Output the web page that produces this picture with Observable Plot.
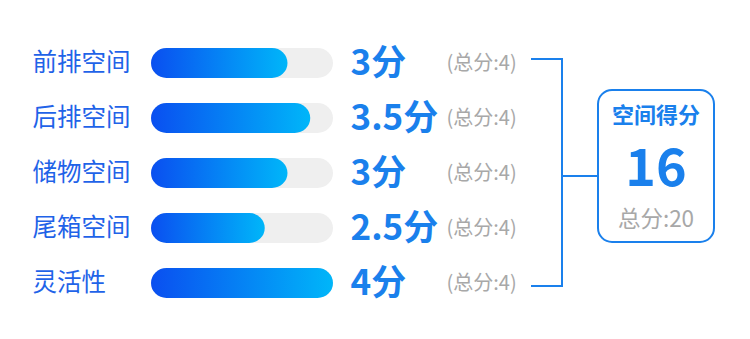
<!DOCTYPE html>
<html><head><meta charset="utf-8">
<script src="https://cdn.jsdelivr.net/npm/d3@7"></script>
<script src="https://cdn.jsdelivr.net/npm/@observablehq/plot@0.6"></script>
<style>body{margin:0;background:#fff}svg{display:block}</style>
</head><body><div id="chart"></div>
<script>
const categories = ["前排空间", "后排空间", "储物空间", "尾箱空间", "灵活性"];
const scores = [3, 3.5, 3, 2.5, 4];
const maxScores = [4, 4, 4, 4, 4];
const scoreLabels = ["3分", "3.5分", "3分", "2.5分", "4分"];
const totalLabels = ["(总分:4)", "(总分:4)", "(总分:4)", "(总分:4)", "(总分:4)"];
const summaryTitle = "空间得分";
const summaryScore = "16";
const summaryTotal = "总分:20";

const rows = categories.map((c, i) => ({
  category: c, score: scores[i], max: maxScores[i],
  scoreLabel: scoreLabels[i], totalLabel: totalLabels[i]
}));

const FONT = "'Noto Sans CJK SC', 'Noto Sans', sans-serif";
const BLUE = "#1a80ec";
const LABEL_BLUE = "#1f63e8";
const GRAY = "#a8a8a8";

function summary(index, scales) {
  const {x, y} = scales;
  const bw = typeof y.bandwidth === "function" ? y.bandwidth() : 0;
  const cy = (c) => y(c) + bw / 2;
  const xr = x(d3.max(maxScores));
  const top = cy(categories[0]) - 4;
  const bot = cy(categories[categories.length - 1]) + 3;
  const mid = cy(categories[2]) + 3;
  const g = d3.create("svg:g");
  g.append("path")
    .attr("d", `M${xr + 198},${top}H${xr + 229}V${bot}H${xr + 198}M${xr + 229},${mid}H${xr + 265}`)
    .attr("fill", "none").attr("stroke", BLUE).attr("stroke-width", 2);
  const bx = xr + 265, by = mid - 86, bwid = 116, bh = 152;
  g.append("rect").attr("x", bx).attr("y", by).attr("width", bwid).attr("height", bh)
    .attr("rx", 14).attr("fill", "#fff").attr("stroke", BLUE).attr("stroke-width", 2);
  const cx = bx + bwid / 2;
  g.append("text").attr("x", cx).attr("y", by + 25).attr("dy", "0.35em")
    .attr("text-anchor", "middle").attr("font-family", FONT).attr("font-weight", 700)
    .attr("font-size", 22).attr("fill", BLUE).text(summaryTitle);
  g.append("text").attr("x", cx).attr("y", by + 77).attr("dy", "0.36em")
    .attr("text-anchor", "middle").attr("font-family", FONT).attr("font-weight", 700)
    .attr("font-size", 52).attr("fill", BLUE).text(summaryScore);
  g.append("text").attr("x", cx).attr("y", by + 129).attr("dy", "0.35em")
    .attr("text-anchor", "middle").attr("font-family", FONT)
    .attr("font-size", 22.5).attr("fill", GRAY).text(summaryTotal);
  return g.node();
}

const chart = Plot.plot({
  width: 750,
  height: 339,
  margin: 0,
  style: {fontFamily: FONT, background: "#fff"},
  x: {domain: [0, 4], range: [151, 333], axis: null},
  y: {type: "band", domain: categories, range: [33.5, 313], paddingInner: 0.45, paddingOuter: 0.225, axis: null},
  marks: [
    Plot.barX(rows, {x: "max", y: "category", fill: "#efefef", rx: 15.5}),
    Plot.barX(rows, {x: "score", y: "category", fill: "url(#barGrad)", rx: 15.5}),
    Plot.text(rows, {x: 0, y: "category", text: "category", textAnchor: "start", dx: -119,
      fill: LABEL_BLUE, fontSize: 24.5, fontWeight: 400}),
    Plot.text(rows, {x: "max", y: "category", text: "scoreLabel", textAnchor: "start", dx: 17,
      fill: BLUE, fontSize: 35, fontWeight: 700}),
    Plot.text(rows, {x: "max", y: "category", text: "totalLabel", textAnchor: "start", dx: 113,
      fill: GRAY, fontSize: 20}),
    summary
  ]
});

const defs = d3.select(chart).insert("defs", ":first-child");
const grad = defs.append("linearGradient").attr("id", "barGrad")
  .attr("x1", "0").attr("x2", "1").attr("y1", "0").attr("y2", "0");
grad.append("stop").attr("offset", "0%").attr("stop-color", "#0a4ff0");
grad.append("stop").attr("offset", "100%").attr("stop-color", "#00b6f9");

document.getElementById("chart").appendChild(chart);
</script>
</body></html>
